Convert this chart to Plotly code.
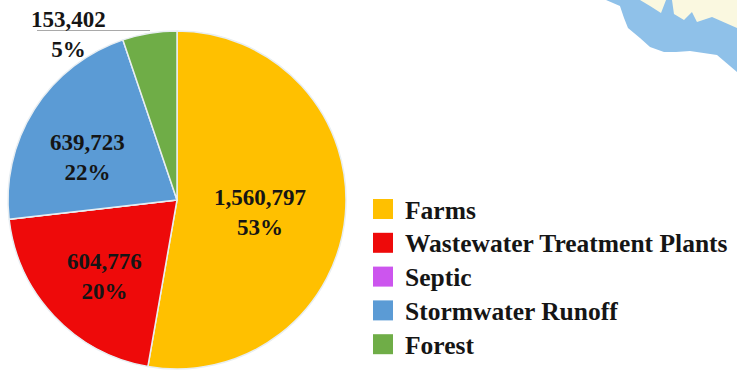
import plotly.graph_objects as go

W, H = 737, 372

categories = ["Farms", "Wastewater Treatment Plants", "Septic", "Stormwater Runoff", "Forest"]
loads = [1560797, 604776, 0, 639723, 153402]
colors = ["#FFC000", "#EE0A0A", "#CC55EE", "#5B9BD5", "#6FAD47"]
label_pos = [(260, 212), (105, 276), None, (87, 157), (68, 34)]
total = sum(loads)

def px(x):
    return x / W

def py(y):
    return 1 - y / H

fig = go.Figure(go.Pie(
    labels=categories, values=loads, sort=False, direction="clockwise", rotation=0,
    marker=dict(colors=colors, line=dict(color="#E8EEF2", width=1.5)),
    textinfo="none", hoverinfo="label+value+percent", showlegend=False,
    domain=dict(x=[px(8), px(346)], y=[py(369), py(31)]),
))

def path(points):
    return "M " + " L ".join(f"{px(x):.4f},{py(y):.4f}" for x, y in points) + " Z"

water = [(606, 0), (620, 6), (624, 18), (628, 28), (640, 38), (650, 47), (664, 52), (676, 52),
         (690, 51), (717, 55), (737, 72), (737, 0)]
land_a = [(640, 0), (650, 6), (661, 13), (666, 0)]
land_b = [(672, 0), (674, 14), (684, 20), (692, 12), (697, 22), (712, 17), (737, 28), (737, 0)]
shapes = [
    dict(type="path", path=path(water), xref="paper", yref="paper", fillcolor="#8FC1E9", line_width=0, layer="below"),
    dict(type="path", path=path(land_a), xref="paper", yref="paper", fillcolor="#FAF8E0", line_width=0, layer="below"),
    dict(type="path", path=path(land_b), xref="paper", yref="paper", fillcolor="#FAF8E0", line_width=0, layer="below"),
    dict(type="line", xref="paper", yref="paper", x0=px(37), x1=px(150), y0=py(30.5), y1=py(30.5),
         line=dict(color="#A9A9A9", width=1)),
]

FONT = "Liberation Serif"
annotations = []
for value, pos in zip(loads, label_pos):
    if pos is None:
        continue
    annotations.append(dict(
        x=px(pos[0]), y=py(pos[1]), xref="paper", yref="paper", showarrow=False,
        xanchor="center", yanchor="middle",
        text=f"<b>{value:,}<br>{round(100 * value / total)}%</b>",
        font=dict(family=FONT, size=23, color="#151515"), align="center",
    ))

legend_x, legend_y0, legend_step, box = 373, 209, 33.8, 20
for i, (name, color) in enumerate(zip(categories, colors)):
    yc = legend_y0 + i * legend_step
    shapes.append(dict(type="rect", xref="paper", yref="paper", x0=px(legend_x), x1=px(legend_x + box),
                       y0=py(yc - box / 2), y1=py(yc + box / 2), fillcolor=color, line_width=0))
    annotations.append(dict(
        x=px(403), y=py(yc + 1), xref="paper", yref="paper", xanchor="left", yanchor="middle", showarrow=False,
        text=f"<b>{name}</b>", font=dict(family=FONT, size=25.5, color="#151515"),
    ))

fig.update_layout(
    width=W, height=H, autosize=False, margin=dict(l=0, r=0, t=0, b=0),
    paper_bgcolor="white", plot_bgcolor="white", shapes=shapes, annotations=annotations,
)
fig.write_html("out.html", config=dict(displayModeBar=False),
               post_script="document.body.style.margin='0';")
